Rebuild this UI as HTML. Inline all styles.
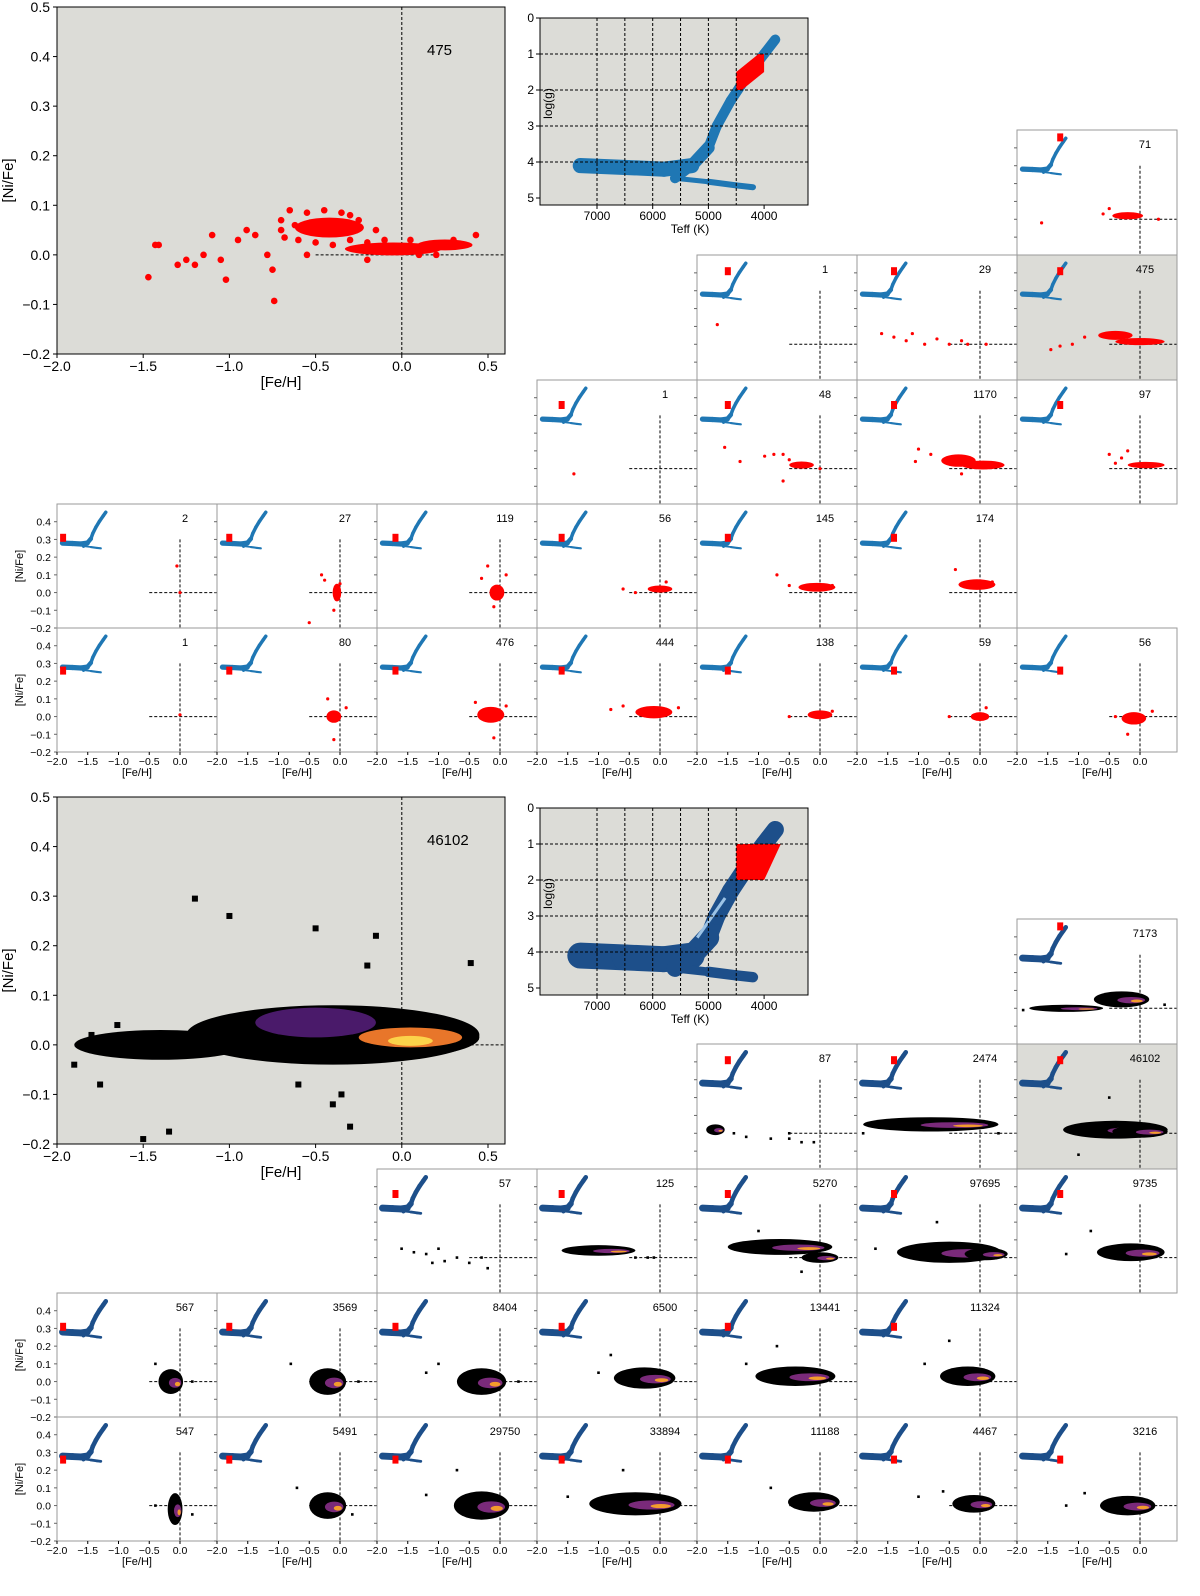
<!DOCTYPE html>
<html><head><meta charset="utf-8"><style>
html,body{margin:0;padding:0;background:#fff;width:1200px;height:1596px;overflow:hidden}
svg{display:block;font-family:"Liberation Sans","DejaVu Sans",sans-serif;overflow:hidden}
</style></head><body>
<svg id="fig" width="1200" height="1596" viewBox="0 0 1200 1596" xmlns="http://www.w3.org/2000/svg"></svg>
<script>
// ---------- data ----------
const fehTicks=[-2.0,-1.5,-1.0,-0.5,0.0,0.5];
const nifeTicksBig=[0.5,0.4,0.3,0.2,0.1,0.0,-0.1,-0.2];
const nifeTicksSmall=[0.4,0.3,0.2,0.1,0.0,-0.1,-0.2];
const teffTicks=[7000,6000,5000,4000];
const loggTicks=[0,1,2,3,4,5];
const teffGrid=[7000,6500,6000,5500,5000,4500];
const loggGrid=[1,2,3,4];
// HR track [teff, logg, halfwidth(logg units)]
const hrTrack=[[7300,4.1,0.3],[6500,4.15,0.3],[5800,4.2,0.3],[5300,4.1,0.25],[5000,3.6,0.2],[4850,3.0,0.2],[4600,2.3,0.2],[4300,1.6,0.2],[4000,1.0,0.2],[3800,0.6,0.15]];
const hrBottom=[[5600,4.45,0.1],[5000,4.55,0.12],[4500,4.65,0.12],[4200,4.7,0.1]];
// top red sample: big panel clouds [feh,nife,sx,sy] and points
const bigTopClouds=[[-0.42,0.055,0.2,0.02],[-0.05,0.012,0.28,0.013],[0.25,0.02,0.16,0.011]];
const bigTopPts=[[-1.47,-0.045],[-1.43,0.02],[-1.41,0.02],[-1.3,-0.02],[-1.25,-0.01],[-1.2,-0.02],[-1.15,0.0],[-1.05,-0.01],[-1.02,-0.05],[-0.95,0.03],[-0.9,0.05],[-0.85,0.04],[-0.75,-0.03],[-0.74,-0.093],[-0.7,0.05],[-0.65,0.09],[-0.6,0.03],[-0.55,0.0],[-0.3,0.08],[-0.2,-0.01],[0.1,0.0],[0.3,0.03],[0.43,0.04],[-0.78,0.0],[-1.1,0.04],[-0.7,0.07],[-0.62,0.06],[-0.55,0.085],[-0.45,0.09],[-0.35,0.085],[-0.25,0.07],[-0.15,0.05],[-0.68,0.035],[-0.5,0.025],[-0.4,0.02],[-0.3,0.03],[-0.2,0.025],[-0.1,0.03],[0.05,0.03],[0.2,0.0],[0.35,0.02]];
// bottom full sample
const bigBotClouds=[[-0.4,0.02,0.85,0.06],[-0.05,0.015,0.5,0.04],[-1.4,0.0,0.5,0.03]];
const bigBotCore=[[-0.5,0.045,0.35,0.03],[0.05,0.015,0.3,0.02],[0.05,0.008,0.13,0.01]];
const bigBotPts=[[-1.2,0.295],[-1.0,0.26],[-0.5,0.235],[-0.15,0.22],[-0.2,0.16],[0.4,0.165],[-1.9,-0.04],[-1.75,-0.08],[-1.5,-0.19],[-1.35,-0.175],[-0.4,-0.12],[-0.35,-0.1],[-0.6,-0.08],[-0.3,-0.165],[-1.65,0.04],[-1.8,0.02]];
// small panels: [row, col, count, clouds[[feh,nife,sx,sy]], points]
const topPanels=[
 [0,6,71,[[-0.2,0.02,0.25,0.02]],[[-1.6,-0.02],[-0.6,0.03],[-0.5,0.06],[0.3,0.0]]],
 [1,4,1,[],[[-1.67,0.11]]],
 [1,5,29,[],[[-1.6,0.06],[-1.4,0.04],[-1.2,0.02],[-1.1,0.06],[-0.9,0.0],[-0.7,0.03],[-0.5,0.0],[-0.3,0.02],[-0.2,0.0],[0.1,0.0]]],
 [1,6,475,[[-0.4,0.05,0.28,0.025],[0.0,0.015,0.4,0.02]],[[-1.45,-0.03],[-1.3,-0.01],[-1.1,0.0],[-0.9,0.04]]],
 [2,3,1,[],[[-1.4,-0.03]]],
 [2,4,48,[[-0.3,0.02,0.2,0.02]],[[-1.55,0.12],[-1.3,0.04],[-0.9,0.07],[-0.75,0.08],[-0.6,0.08],[-0.6,-0.07],[-0.5,0.05],[0.0,0.0]]],
 [2,5,1170,[[-0.35,0.045,0.28,0.035],[0.05,0.02,0.35,0.025]],[[-1.0,0.11],[-1.05,0.04],[-0.8,0.08],[-0.3,-0.03]]],
 [2,6,97,[[0.1,0.02,0.3,0.018]],[[-0.5,0.08],[-0.3,0.06],[-0.2,0.1],[-0.4,0.03]]],
 [3,0,2,[],[[-0.05,0.15],[0.0,0.0]]],
 [3,1,27,[[-0.05,0.0,0.07,0.05]],[[-0.3,0.1],[-0.25,0.07],[-0.1,-0.1],[-0.5,-0.17],[0.0,0.05]]],
 [3,2,119,[[-0.05,0.0,0.12,0.045]],[[-0.2,0.15],[-0.3,0.08],[0.1,0.1],[-0.1,-0.08]]],
 [3,3,56,[[0.0,0.02,0.2,0.02]],[[-0.4,0.0],[-0.6,0.02],[0.1,0.06]]],
 [3,4,145,[[-0.05,0.03,0.3,0.025]],[[-0.7,0.1],[-0.5,0.04],[0.2,0.04]]],
 [3,5,174,[[-0.05,0.045,0.3,0.03]],[[-0.4,0.13],[0.2,0.06]]],
 [4,0,1,[],[[0.0,0.01]]],
 [4,1,80,[[-0.1,0.0,0.12,0.035]],[[-0.2,0.1],[-0.1,-0.13],[0.1,0.05]]],
 [4,2,476,[[-0.15,0.01,0.22,0.045]],[[-0.4,0.08],[-0.1,-0.12],[0.1,0.06]]],
 [4,3,444,[[-0.1,0.025,0.3,0.035]],[[-0.8,0.04],[-0.6,0.06],[0.3,0.05]]],
 [4,4,138,[[0.0,0.01,0.2,0.025]],[[-0.5,0.0],[0.2,0.03]]],
 [4,5,59,[[0.0,0.0,0.15,0.025]],[[-0.5,0.0],[0.1,0.05]]],
 [4,6,56,[[-0.1,-0.01,0.2,0.035]],[[-0.4,0.0],[-0.2,-0.1],[0.2,0.03]]]
];
const botPanels=[
 [0,6,7173,[[-0.3,0.05,0.45,0.045],[-1.2,0.0,0.6,0.02]],[[-1.9,-0.01],[0.4,0.02]]],
 [1,4,87,[[-1.7,0.02,0.15,0.03]],[[-1.4,0.0],[-1.2,-0.02],[-0.8,-0.03],[-0.5,0.0],[-0.3,-0.05],[-0.1,-0.05],[-0.5,-0.03]]],
 [1,5,2474,[[-0.8,0.05,1.1,0.04]],[[-1.9,0.0],[0.3,0.0]]],
 [1,6,46102,[[-0.4,0.02,0.85,0.05],[0.0,0.01,0.45,0.035]],[[-0.5,0.2],[-1.0,-0.12]]],
 [2,2,57,[],[[-1.6,0.05],[-1.4,0.03],[-1.2,0.02],[-1.0,0.05],[-0.9,-0.02],[-0.7,0.0],[-0.5,-0.03],[-0.3,0.0],[-0.2,-0.06],[-1.1,-0.03]]],
 [2,3,125,[[-1.0,0.04,0.6,0.03]],[[-0.4,0.0],[-0.2,0.0],[-0.1,0.0]]],
 [2,4,5270,[[-0.65,0.06,0.85,0.045],[0.0,0.0,0.3,0.03]],[[-1.0,0.15],[-0.3,-0.08]]],
 [2,5,97695,[[-0.5,0.03,0.85,0.06],[0.1,0.02,0.35,0.035]],[[-0.7,0.2],[-1.7,0.05]]],
 [2,6,9735,[[-0.15,0.03,0.55,0.05]],[[-0.8,0.15],[-1.2,0.02]]],
 [3,0,567,[[-0.15,0.0,0.2,0.07]],[[-0.4,0.1],[0.2,0.0]]],
 [3,1,3569,[[-0.2,0.0,0.3,0.075]],[[-0.8,0.1],[0.3,0.0]]],
 [3,2,8404,[[-0.3,0.0,0.4,0.075]],[[-1.0,0.1],[-1.2,0.05],[0.3,0.0]]],
 [3,3,6500,[[-0.25,0.02,0.5,0.06]],[[-1.0,0.05],[-0.8,0.15]]],
 [3,4,13441,[[-0.4,0.03,0.65,0.055]],[[-1.2,0.1],[-0.7,0.2]]],
 [3,5,11324,[[-0.2,0.03,0.45,0.055]],[[-0.5,0.23],[-0.9,0.1]]],
 [4,0,547,[[-0.08,-0.02,0.12,0.09]],[[-0.4,0.0],[0.2,-0.05]]],
 [4,1,5491,[[-0.2,0.0,0.3,0.075]],[[-0.7,0.1],[0.2,-0.05]]],
 [4,2,29750,[[-0.3,0.0,0.45,0.08]],[[-1.2,0.06],[-0.7,0.2]]],
 [4,3,33894,[[-0.4,0.01,0.75,0.065]],[[-1.5,0.05],[-0.6,0.2]]],
 [4,4,11188,[[-0.1,0.02,0.42,0.055]],[[-0.8,0.1]]],
 [4,5,4467,[[-0.1,0.01,0.35,0.05]],[[-0.6,0.08],[-1.0,0.05]]],
 [4,6,3216,[[-0.2,0.0,0.45,0.055]],[[-0.9,0.07],[-1.2,0.0]]]
];
// ---------- drawing ----------
const S=document.getElementById('fig');
const NS='http://www.w3.org/2000/svg';
function mk(tag,attrs,parent,text){const e=document.createElementNS(NS,tag);for(const k in attrs)e.setAttribute(k,attrs[k]);if(text!==undefined)e.textContent=text;(parent||S).appendChild(e);return e;}
function txt(x,y,s,size,anchor,parent,rot){const a={x:x,y:y,'font-size':size,'text-anchor':anchor||'middle',fill:'#000'};if(rot)a.transform='rotate(-90 '+x+' '+y+')';const t=mk('text',a,parent,s);return t;}
const COLW=160,COLX0=57;
const BLUE='#1f77b4',DBLUE='#1d4f8a';

function drawHR(g,tx,gy,color,wscale,redTeff,redLogg,redW,redH){
  [hrTrack,hrBottom].forEach(tr=>{
    for(let i=0;i<tr.length-1;i++){
      const a=tr[i],b=tr[i+1];
      const l=mk('line',{x1:tx(a[0]),y1:gy(a[1]),x2:tx(b[0]),y2:gy(b[1]),stroke:color,'stroke-width':Math.max(1.5,(gy(a[2])-gy(0))*2*wscale),'stroke-linecap':'round'},g);
      
      
    }
  });
  const c=mk('line',{x1:tx(5300),y1:gy(4.1),x2:tx(5600),y2:gy(4.45),stroke:color,'stroke-width':Math.max(1.5,(gy(0.2)-gy(0))*2*wscale),'stroke-linecap':'round'},g);
  
  
  if(redTeff!==null){
    const r=mk('rect',{x:tx(redTeff)-redW/2,y:gy(redLogg)-redH/2,width:redW,height:redH,fill:'#ff0000'},g);
    
    
  }
}

function drawCloudSet(g,xs,ys,clouds,pts,mode){
  clouds.forEach(cl=>{
    const rx=Math.abs(xs(cl[0]+cl[2])-xs(cl[0])),ry=Math.abs(ys(cl[1]+cl[3])-ys(cl[1]));
    const e=mk('ellipse',{cx:xs(cl[0]),cy:ys(cl[1]),rx:rx,ry:ry,fill:mode==='red'?'#ff0000':'#000'},g);
    
    
    if(mode==='dens'){
      const e2=mk('ellipse',{cx:xs(cl[0]+cl[2]*0.35),cy:ys(cl[1]-cl[3]*0.1),rx:rx*0.5,ry:ry*0.4,fill:'#7a2a7a'},g);
      
      
      const e3=mk('ellipse',{cx:xs(cl[0]+cl[2]*0.55),cy:ys(cl[1]-cl[3]*0.2),rx:rx*0.22,ry:ry*0.18,fill:'#f39c2c'},g);
      
      
    }
  });
  pts.forEach(p=>{
    let el;
    if(mode==='red') el=mk('circle',{cx:xs(p[0]),cy:ys(p[1]),r:1.6,fill:'#ff0000'},g);
    else el=mk('rect',{x:xs(p[0])-1.3,y:ys(p[1])-1.3,width:2.6,height:2.6,fill:'#000'},g);
    
    
  });
}

function drawBig(oy,count,mode){
  const g=mk('g',{});
  
  
  const X0=57,X1=505,Y0=7+oy,Y1=354+oy;
  const xs=f=>X0+(f+2)*172.4, ys=n=>Y0+(0.5-n)*(Y1-Y0)/0.7;
  const bg=mk('rect',{x:X0,y:Y0,width:X1-X0,height:Y1-Y0,fill:'#dcdcd7'},g);
  
  
  const vl=mk('line',{x1:xs(0),y1:Y0,x2:xs(0),y2:Y1,stroke:'#000','stroke-dasharray':'3,2','stroke-width':1},g);
  
  const hl=mk('line',{x1:xs(-0.5),y1:ys(0),x2:X1,y2:ys(0),stroke:'#000','stroke-dasharray':'3,2','stroke-width':1},g);
  
  if(mode==='red'){
    drawCloudSet(g,xs,ys,bigTopClouds,[],'red');
    bigTopPts.forEach(p=>{const c=mk('circle',{cx:xs(p[0]),cy:ys(p[1]),r:3.3,fill:'#ff0000'},g);
      });
  } else {
    drawCloudSet(g,xs,ys,bigBotClouds,[],'black');
    const cols=['#4a1a6a','#e8762a','#fcd34a'];
    bigBotCore.forEach((cl,i)=>{const e=mk('ellipse',{cx:xs(cl[0]),cy:ys(cl[1]),rx:Math.abs(xs(cl[0]+cl[2])-xs(cl[0])),ry:Math.abs(ys(cl[1]+cl[3])-ys(cl[1])),fill:cols[i]},g);
      });
    bigBotPts.forEach(p=>{const r=mk('rect',{x:xs(p[0])-3,y:ys(p[1])-3,width:6,height:6,fill:'#000'},g);
      });
  }
  const fr=mk('rect',{x:X0,y:Y0,width:X1-X0,height:Y1-Y0,fill:'none',stroke:'#000','stroke-width':1},g);
  
  fehTicks.forEach(t=>{mk('line',{x1:xs(t),y1:Y1,x2:xs(t),y2:Y1+4,stroke:'#000'},g);
    const l=txt(xs(t),Y1+17,(t<0?'\u2212':'')+Math.abs(t).toFixed(1),14,'middle',g);
    });
  nifeTicksBig.forEach(t=>{mk('line',{x1:X0-4,y1:ys(t),x2:X0,y2:ys(t),stroke:'#000'},g);
    const l=txt(X0-7,ys(t)+5,(t<0?'\u2212':'')+Math.abs(t).toFixed(1),14,'end',g);
    });
  const xt=txt(281,Y1+33,'[Fe/H]',15,'middle',g);
  const yt=txt(13,(Y0+Y1)/2,'[Ni/Fe]',15,'middle',g,true);
  const ct=txt(X1-78,Y0+48,String(count),15,'start',g);
}

function drawBigHR(oy,mode){
  const g=mk('g',{});
  
  
  const X0=540,X1=808,Y0=18+oy,Y1=205+oy;
  const tx=t=>597+(7000-t)*0.0557, gy=v=>Y0+v*36;
  const bg=mk('rect',{x:X0,y:Y0,width:X1-X0,height:Y1-Y0,fill:'#dcdcd7'},g);
  
  drawHR(g,tx,gy,mode==='red'?BLUE:DBLUE,mode==='red'?0.7:1.2,null);
  if(mode!=='red'){
    const r=mk('line',{x1:tx(5200),y1:gy(3.6),x2:tx(4700),y2:gy(2.5),stroke:'#9cc3e6','stroke-width':3},g);
    
  }
  const red=mk('polygon',{points:mode==='red'?
      [tx(4500),gy(2),tx(4500),gy(1.5),tx(4100),gy(1),tx(4000),gy(1),tx(4000),gy(1.5),tx(4400),gy(2)].join(','):
      [tx(4500),gy(2),tx(4500),gy(1),tx(3700),gy(1),tx(4000),gy(2)].join(','),fill:'#ff0000'},g);
  
  teffGrid.forEach(t=>{const l=mk('line',{x1:tx(t),y1:Y0,x2:tx(t),y2:Y1,stroke:'#000','stroke-dasharray':'3,2'},g);
    });
  loggGrid.forEach(v=>{const l=mk('line',{x1:X0,y1:gy(v),x2:X1,y2:gy(v),stroke:'#000','stroke-dasharray':'3,2'},g);
    });
  mk('rect',{x:X0,y:Y0,width:X1-X0,height:Y1-Y0,fill:'none',stroke:'#000'},g);
  teffTicks.forEach(t=>{mk('line',{x1:tx(t),y1:Y1,x2:tx(t),y2:Y1+4,stroke:'#000'},g);
    const l=txt(tx(t),Y1+15,String(t),12,'middle',g);});
  loggTicks.forEach(v=>{mk('line',{x1:X0-4,y1:gy(v),x2:X0,y2:gy(v),stroke:'#000'},g);
    const l=txt(X0-6,gy(v)+4,String(v),12,'end',g);});
  const xt=txt(690,Y1+28,'Teff (K)',12,'middle',g);
  const yt=txt(552,(Y0+Y1)/2-8,'log(g)',12,'middle',g,true);
}

function drawSmall(p,oy,mode,rowTops){
  const [r,c,count,clouds,pts]=p;
  const px=COLX0+c*COLW, py=rowTops[r]+oy, h=rowTops[r+1]-rowTops[r];
  const g=mk('g',{});
  
  
  const xs=f=>px+(f+2)*61.5, ys=n=>py+(0.5-n)*h/0.7;
  const hi=(r===1&&c===6);
  const bg=mk('rect',{x:px,y:py,width:COLW,height:h,fill:hi?'#dcdcd7':'#fff'},g);
  
  const vl=mk('line',{x1:xs(0),y1:ys(0.3),x2:xs(0),y2:py+h,stroke:'#000','stroke-dasharray':'3,2'},g);
  
  const hl=mk('line',{x1:xs(-0.5),y1:ys(0),x2:px+COLW,y2:ys(0),stroke:'#000','stroke-dasharray':'3,2'},g);
  
  const ig=mk('g',{},g);
  
  const tx=t=>px+3+(7500-t)*0.01237, gy=v=>py+3+v*8.8;
  drawHR(ig,tx,gy,mode==='red'?BLUE:DBLUE,mode==='red'?1.0:1.3,7250-500*c,r+0.5,6,8);
  drawCloudSet(g,xs,ys,clouds,pts,mode==='red'?'red':'dens');
  const fr=mk('rect',{x:px,y:py,width:COLW,height:h,fill:'none',stroke:'#9a9a9a','stroke-width':1},g);
  
  nifeTicksSmall.forEach(t=>mk('line',{x1:px-3,y1:ys(t),x2:px,y2:ys(t),stroke:'#666'},g));
  const ct=txt(px+128,py+18,String(count),11,'middle',g);
  
  if(c===0){
    nifeTicksSmall.forEach(t=>{const l=txt(px-6,ys(t)+4,(t<0?'\u2212':'')+Math.abs(t).toFixed(1),10.5,'end',g);
      });
    const yt=txt(23,py+h/2,'[Ni/Fe]',11,'middle',g,true);
  }
  if(r===4){
    fehTicks.slice(0,5).forEach(t=>{mk('line',{x1:xs(t),y1:py+h,x2:xs(t),y2:py+h+3,stroke:'#000'},g);
      const l=txt(xs(t),py+h+13,(t<0?'\u2212':'')+Math.abs(t).toFixed(1),10.5,'middle',g);
      });
    const xt=txt(px+80,py+h+24,'[Fe/H]',11,'middle',g);
  }
}

const rowTops=[130,255,380,504,628,752];
drawBig(0,475,'red');
drawBigHR(0,'red');
topPanels.forEach(p=>drawSmall(p,0,'red',rowTops));
drawBig(790,46102,'dens');
drawBigHR(790,'dens');
botPanels.forEach(p=>drawSmall(p,789,'dens',rowTops));
</script>
</body></html>
